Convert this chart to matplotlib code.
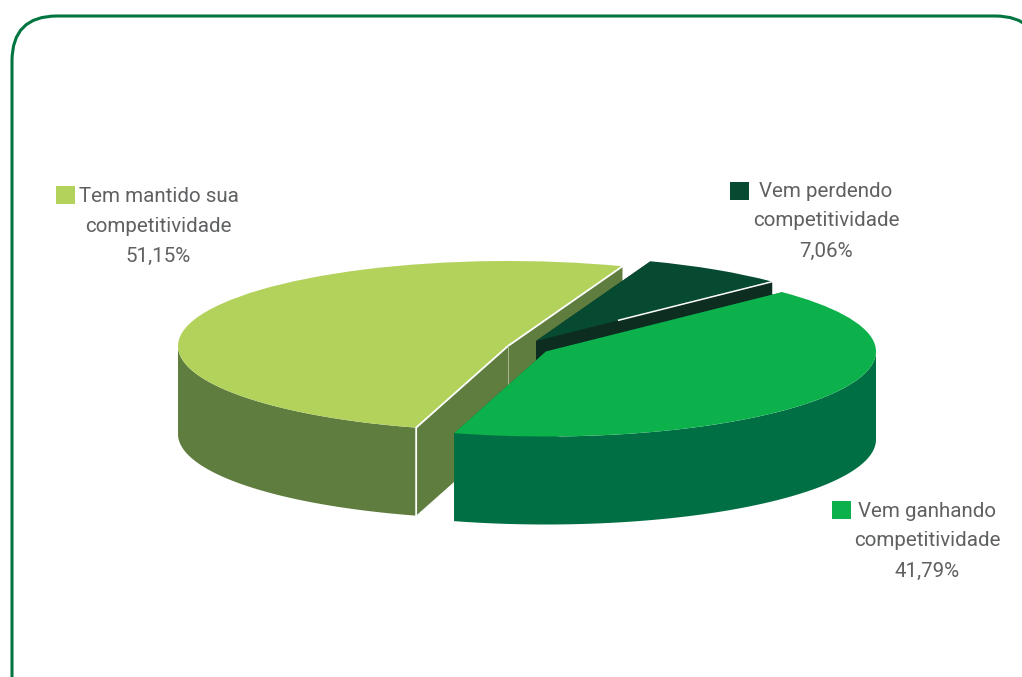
import numpy as np
import matplotlib
matplotlib.use('Agg')
import matplotlib.pyplot as plt
from matplotlib.patches import FancyBboxPatch, Polygon, Rectangle, Wedge
from matplotlib.transforms import Affine2D

nomes = ['Tem mantido sua\ncompetitividade', 'Vem ganhando\ncompetitividade', 'Vem perdendo\ncompetitividade']
valores = [51.15, 41.79, 7.06]
cor_topo = ['#b2d25b', '#0cb14b', '#074a32']
cor_lado = ['#607d40', '#006f43', '#0c2d20']

# centro de cada fatia (pixels), elipse e profundidade
centros = [(508, 346), (546, 351.5), (536, 341)]
rx, ry = 330, 85
prof = 88
inicio = 69.7

plt.rcParams['font.family'] = ['Roboto', 'DejaVu Sans']

fig = plt.figure(figsize=(10.22, 6.77), dpi=100)
ax = fig.add_axes([0, 0, 1, 1])
ax.set_xlim(0, 1022)
ax.set_ylim(677, 0)
ax.axis('off')

ax.add_patch(FancyBboxPatch((52, 56), 948, 700, boxstyle='round,pad=40,rounding_size=45',
                            fc='white', ec='#00753f', lw=2.2))


def ponto(c, ang):
    a = np.radians(ang)
    return np.column_stack([c[0] + rx * np.cos(a), c[1] - ry * np.sin(a)])


def face(p1, p2, cor, z):
    ax.add_patch(Polygon([p1, p2, (p2[0], p2[1] + prof), (p1[0], p1[1] + prof)],
                         fc=cor, ec='none', zorder=z))


angulos = inicio + np.cumsum([0] + [v * 3.6 for v in valores])
# desenha de tras para a frente
for z, i in enumerate([0, 2, 1]):
    c = centros[i]
    a0, a1 = angulos[i], angulos[i + 1]
    p0 = ponto(c, a0)[0]
    p1 = ponto(c, a1)[0]
    # faces de corte
    face(c, p0, cor_lado[i], z + 2)
    face(c, p1, cor_lado[i], z + 2)
    # lateral externa, so a parte da frente (180 a 360 graus)
    ini, fim = max(a0, 180), min(a1, 360)
    if fim > ini:
        arco = ponto(c, np.linspace(ini, fim, 80))
        baixo = arco[::-1] + [0, prof]
        ax.add_patch(Polygon(np.vstack([arco, baixo]), fc=cor_lado[i], ec='none', zorder=z + 2))
    # topo
    tr = Affine2D().scale(rx, -ry).translate(c[0], c[1]) + ax.transData
    ax.add_patch(Wedge((0, 0), 1, a0, a1, fc=cor_topo[i], ec='none', transform=tr, zorder=z + 2))
    # filetes brancos
    if i == 0:
        ax.plot([p0[0], c[0], p1[0], p1[0]], [p0[1], c[1], p1[1], p1[1] + prof],
                color='white', lw=1.3, zorder=z + 2, solid_joinstyle='miter')
        ax.plot([c[0], c[0]], [c[1], c[1] + prof], color='#a9b898', lw=0.7, zorder=z + 2)
    if i == 2:
        meio = np.array(c) + 0.35 * (p0 - np.array(c))
        ax.plot([meio[0], p0[0]], [meio[1], p0[1]], color='white', lw=1.1, zorder=z + 2)

# legendas
quadros = [(56, 186), (832, 501), (730, 182)]
centros_txt = [(158.5, 226), (927, 541), (826, 221)]
for i in range(3):
    ax.add_patch(Rectangle(quadros[i], 19, 18, fc=cor_topo[i], ec='none', zorder=6))
    rotulo = nomes[i] + '\n' + f'{valores[i]:.2f}%'.replace('.', ',')
    ax.text(centros_txt[i][0], centros_txt[i][1], rotulo, ha='center', va='center',
            multialignment='center', fontsize=14.8, color='#5f6062', linespacing=1.73, zorder=6)

fig.savefig('out.png', dpi=100)
